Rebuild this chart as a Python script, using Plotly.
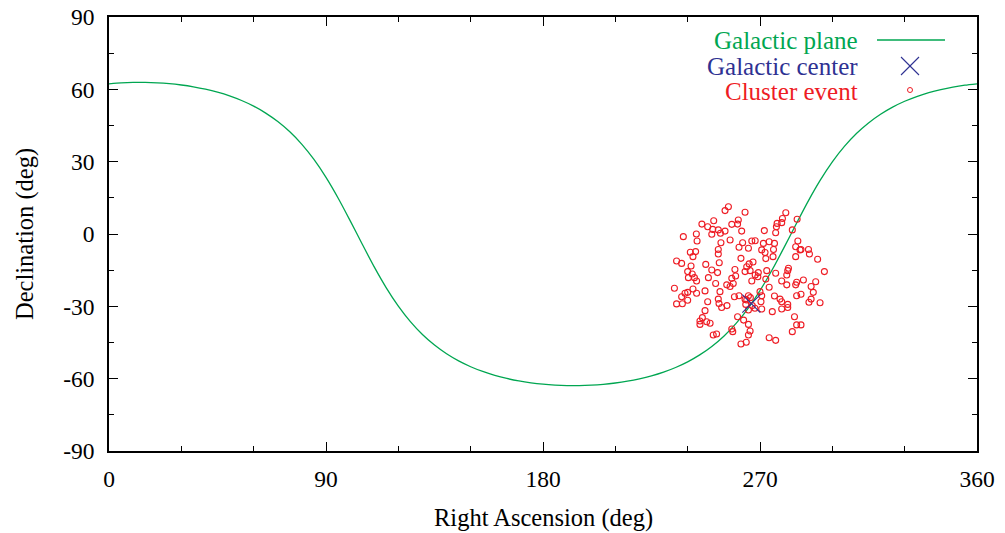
import plotly.graph_objects as go

# Galactic plane (RA, Dec in degrees)
ra_plane = [0, 5, 10, 15, 20, 25, 30, 35, 40, 45, 50, 55, 60, 65, 70, 75, 80, 85, 90, 95,
            100, 105, 110, 115, 120, 125, 130, 135, 140, 145, 150, 155, 160, 165, 170, 175,
            180, 185, 190, 195, 200, 205, 210, 215, 220, 225, 230, 235, 240, 245, 250, 255,
            260, 265, 270, 275, 280, 285, 290, 295, 300, 305, 310, 315, 320, 325, 330, 335,
            340, 345, 350, 355, 360]
dec_plane = [62.28, 62.65, 62.85, 62.86, 62.69, 62.35, 61.80, 61.05, 60.07, 58.83, 57.28, 55.36,
             53.02, 50.15, 46.64, 42.37, 37.18, 30.91, 23.48, 14.95, 5.56, -4.17, -13.64, -22.32,
             -29.91, -36.34, -41.68, -46.08, -49.68, -52.63, -55.05, -57.02, -58.63, -59.91,
             -60.93, -61.71, -62.28, -62.65, -62.85, -62.86, -62.69, -62.35, -61.80, -61.05,
             -60.07, -58.83, -57.28, -55.36, -53.02, -50.15, -46.64, -42.37, -37.18, -30.91,
             -23.48, -14.95, -5.56, 4.17, 13.64, 22.32, 29.91, 36.34, 41.68, 46.08, 49.68,
             52.63, 55.05, 57.02, 58.63, 59.91, 60.93, 61.71, 62.28]

# Galactic center
ra_center = [266.4]
dec_center = [-28.9]

# Cluster events
ra_events = [
    256.9, 255.5, 263.8, 250.8, 245.9, 248.3, 250.4, 252.7, 253.6, 255.5, 258.3, 261.0, 260.7,
    262.4, 250.0, 243.6, 238.2, 243.9, 253.8, 257.6, 262.8, 261.3, 265.2, 252.7, 252.7, 241.1,
    243.3, 242.2, 253.1, 247.5, 235.4, 237.5, 241.4, 262.1, 250.0, 252.4, 259.6, 264.5, 263.8,
    240.0, 241.9,
    280.7, 285.4, 279.3, 277.1, 276.8, 279.0, 271.8, 276.5, 283.4, 285.7, 266.6, 268.0, 271.4,
    273.8, 276.0, 270.7, 272.1, 275.6, 284.8, 286.6, 287.0, 290.1, 290.5, 284.8, 275.4, 272.4,
    293.9, 267.1, 265.5, 281.8, 281.5, 281.1, 269.3, 268.0, 272.8, 276.5, 265.9, 296.7,
    240.3, 242.8, 243.7, 248.6, 251.6, 258.3, 259.9, 258.9, 256.2, 257.6, 234.5, 240.0, 242.2,
    243.7, 238.9, 237.5, 247.2, 253.4, 240.0, 235.4, 237.8, 248.3, 252.7, 253.0, 254.1, 256.3,
    259.4, 261.3, 263.8, 247.2, 260.7, 263.2, 246.1, 245.1, 247.9, 249.3, 245.1, 265.2, 258.3,
    258.7, 252.0, 250.6, 265.2, 264.3, 262.1,
    266.6, 269.1, 272.4, 279.0, 281.1, 285.2, 284.8, 288.0, 293.1, 291.2, 292.1, 285.2, 287.0,
    273.8, 276.0, 270.0, 270.7, 265.2, 266.0, 264.5, 270.4, 278.3, 279.0, 281.5, 281.5, 279.0,
    275.1, 270.7, 267.9, 265.2, 266.8, 264.1, 291.2, 290.3, 294.9, 284.3, 285.2, 287.0, 283.4,
    265.9, 273.8, 276.5]
dec_events = [
    11.3, 9.7, 9.0, 5.5, 4.1, 3.0, 1.9, 1.7, 0.3, 1.2, 4.0, 5.8, 4.1,
    1.2, -0.1, 0.0, -1.1, -2.9, -3.6, -2.5, -3.6, -5.5, -5.9, -6.4, -8.3, -7.6,
    -7.3, -9.4, -11.9, -12.6, -11.2, -12.2, -13.3, -10.1, -14.9, -16.0, -14.7, -13.6, -15.6,
    -15.6, -16.6,
    8.8, 6.1, 6.4, 4.4, 3.0, 4.7, 1.4, 0.5, 1.7, -2.9, -2.9, -2.8, -3.9,
    -3.2, -3.9, -6.6, -7.7, -6.4, -5.3, -6.6, -6.4, -6.4, -8.3, -9.4, -9.4, -10.2,
    -10.5, -11.6, -12.4, -14.2, -15.2, -17.0, -16.0, -17.0, -15.2, -16.3, -15.2, -15.6,
    -18.1, -18.1, -19.5, -18.1, -20.5, -18.4, -17.4, -20.5, -21.1, -21.8, -22.5, -24.2, -22.8,
    -24.6, -24.6, -26.0, -23.6, -23.9, -27.5, -29.0, -28.9, -28.1, -27.0, -28.8, -30.5, -29.7,
    -26.0, -25.6, -27.1, -31.8, -34.3, -35.7, -34.7, -36.1, -36.4, -37.0, -37.5, -37.5, -39.4,
    -40.5, -41.5, -41.9, -41.9, -44.9, -45.6,
    -19.5, -17.7, -18.7, -19.5, -21.1, -20.0, -21.1, -19.1, -19.8, -21.8, -24.2, -25.6, -25.0,
    -22.1, -25.7, -23.9, -25.6, -25.6, -26.4, -27.4, -28.1, -27.0, -28.1, -29.2, -30.5, -31.1,
    -32.2, -31.1, -30.8, -31.5, -29.7, -29.2, -27.0, -28.3, -28.5, -34.3, -37.7, -37.7, -40.5,
    -40.2, -43.0, -44.1]

x_ticks = [0, 90, 180, 270, 360]
x_ticktext = ["0", "90", "180", "270", "360"]
y_ticks = [-90, -60, -30, 0, 30, 60, 90]
y_ticktext = ["-90", "-60", "-30", "0", "30", "60", "90"]

legend_names = ["Galactic plane", "Galactic center", "Cluster event"]

GREEN = "#00a651"
BLUE = "#2e3192"
RED = "#ee1c24"
FONT = "Liberation Serif"

fig = go.Figure()
fig.add_trace(go.Scatter(x=ra_plane, y=dec_plane, mode="lines",
                         line=dict(color=GREEN, width=1.3, shape="spline", smoothing=0.6),
                         name=legend_names[0], showlegend=False))
fig.add_trace(go.Scatter(x=ra_events, y=dec_events, mode="markers",
                         marker=dict(symbol="circle-open", size=6, color=RED,
                                     line=dict(color=RED, width=1.1)),
                         name=legend_names[2], showlegend=False))
fig.add_trace(go.Scatter(x=ra_center, y=dec_center, mode="markers",
                         marker=dict(symbol="x-thin-open", size=18, color=BLUE,
                                     line=dict(color=BLUE, width=1.1)),
                         name=legend_names[1], showlegend=False))

W, H = 1005, 533
L, R, T, B = 109, 28, 17, 82
pw, ph = W - L - R, H - T - B


def px2paper(px, py):
    return (px - L) / pw, (H - B - py) / ph


shapes = []
annotations = []
# legend entries (gnuplot style: text right-aligned, sample to the right)
rows_y = [40, 66, 92]
colors = [GREEN, BLUE, RED]
text_right_px = 860
for name, yy, col in zip(legend_names, rows_y, colors):
    xr, yr = px2paper(text_right_px, yy)
    annotations.append(dict(x=xr, y=yr, xref="paper", yref="paper", text=name,
                            showarrow=False, xanchor="right", yanchor="middle",
                            font=dict(family=FONT, size=25, color=col)))
# line sample
x0, y0 = px2paper(877, rows_y[0])
x1, _ = px2paper(945, rows_y[0])
shapes.append(dict(type="line", xref="paper", yref="paper", x0=x0, x1=x1, y0=y0, y1=y0,
                   line=dict(color=GREEN, width=1.3)))
# X sample
cx, cy = px2paper(910, rows_y[1])
dx, dy = 9 / pw, 9 / ph
shapes.append(dict(type="line", xref="paper", yref="paper", x0=cx - dx, x1=cx + dx,
                   y0=cy - dy, y1=cy + dy, line=dict(color=BLUE, width=1.1)))
shapes.append(dict(type="line", xref="paper", yref="paper", x0=cx - dx, x1=cx + dx,
                   y0=cy + dy, y1=cy - dy, line=dict(color=BLUE, width=1.1)))
# circle sample
cx, cy = px2paper(910, rows_y[2] - 2)
rx, ry = 2.5 / pw, 2.5 / ph
shapes.append(dict(type="circle", xref="paper", yref="paper", x0=cx - rx, x1=cx + rx,
                   y0=cy - ry, y1=cy + ry, line=dict(color=RED, width=1)))

# axis titles
annotations.append(dict(x=0.5, y=(H - B - 518) / ph, xref="paper", yref="paper",
                        text="Right Ascension (deg)", showarrow=False,
                        xanchor="center", yanchor="middle",
                        font=dict(family=FONT, size=24.5, color="black")))
annotations.append(dict(x=(25 - L) / pw, y=0.5, xref="paper", yref="paper",
                        text="Declination (deg)", showarrow=False, textangle=-90,
                        xanchor="center", yanchor="middle",
                        font=dict(family=FONT, size=24.5, color="black")))

axis_common = dict(showline=True, linecolor="black", linewidth=1.5, mirror="ticks",
                   ticks="inside", ticklen=9, tickwidth=1.2, tickcolor="black",
                   showgrid=False, zeroline=False, automargin=False,
                   tickfont=dict(family=FONT, size=23.5, color="black"))

fig.update_layout(
    width=W, height=H,
    margin=dict(l=L, r=R, t=T, b=B, autoexpand=False),
    paper_bgcolor="white", plot_bgcolor="white",
    showlegend=False,
    xaxis=dict(range=[0, 360], tickmode="array", tickvals=x_ticks, ticktext=x_ticktext,
               minor=dict(tick0=0, dtick=30, ticks="inside", ticklen=5, tickwidth=1,
                          tickcolor="black", showgrid=False),
               ticklabelstandoff=6, **axis_common),
    yaxis=dict(range=[-90, 90], tickmode="array", tickvals=y_ticks, ticktext=y_ticktext,
               minor=dict(tick0=0, dtick=15, ticks="inside", ticklen=5, tickwidth=1,
                          tickcolor="black", showgrid=False),
               ticklabelstandoff=8, **axis_common),
    shapes=shapes,
    annotations=annotations,
)

fig.write_html("out.html", config={"displayModeBar": False},
               post_script="document.body.style.margin='0px';document.body.style.padding='0px';")
